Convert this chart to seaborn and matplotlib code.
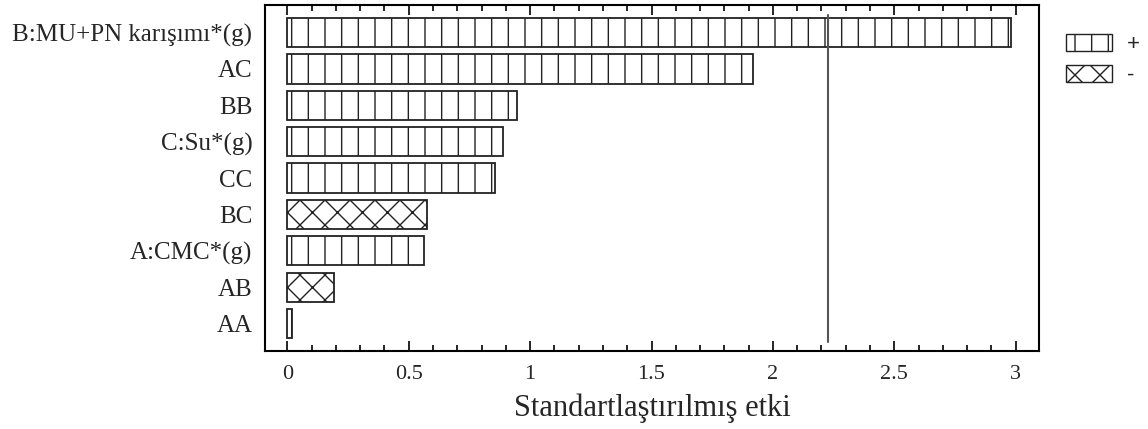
import matplotlib
matplotlib.use("Agg")
import matplotlib.pyplot as plt
import matplotlib.hatch as mhatch
import matplotlib.patches as mpatches
from matplotlib.ticker import MultipleLocator
import seaborn as sns
import pandas as pd

# Standardised effects (absolute values) and their signs
terms = ["B:MU+PN karışımı*(g)", "AC", "BB", "C:Su*(g)", "CC", "BC",
         "A:CMC*(g)", "AB", "AA"]
effects = [2.979, 1.917, 0.946, 0.890, 0.854, 0.577, 0.563, 0.192, 0.021]
signs = ["+", "+", "+", "+", "+", "-", "+", "-", "+"]
t_critical = 2.228
x_ticks = [0, 0.5, 1, 1.5, 2, 2.5, 3]
x_label = "Standartlaştırılmış etki"


# Cross-hatch 'X' with 8 diagonals per tile in each direction
def _sparse_diagonal(base):
    class Sparse(base):
        def __init__(self, hatch, density):
            super().__init__(hatch.replace("X", ""), density)
            extra = hatch.count("X") * 8
            if extra:
                self.num_lines += extra
                self.num_vertices = (self.num_lines + 1) * 2
    return Sparse


mhatch._hatch_types[2] = _sparse_diagonal(mhatch.NorthEastHatch)
mhatch._hatch_types[3] = _sparse_diagonal(mhatch.SouthEastHatch)

sns.set_style("white")
plt.rcParams["font.family"] = ["Liberation Serif", "DejaVu Serif"]
plt.rcParams["hatch.linewidth"] = 1.0

hatch_for = {"+": "|", "-": "X"}
df = pd.DataFrame({"term": terms, "effect": effects, "sign": signs})

fig = plt.figure(figsize=(11.48, 4.29), dpi=100)
ax = fig.add_axes([0.2308, 0.1818, 0.9051 - 0.2308, 0.9883 - 0.1818])

sns.barplot(data=df, x="effect", y="term", orient="h", color="white",
            edgecolor="#222222", linewidth=1.3, width=0.8, ax=ax,
            saturation=1)

for patch, s in zip(ax.patches, signs):
    patch.set_hatch(hatch_for[s])
    patch.set_facecolor("white")

ax.axvline(t_critical, ymin=0.026, ymax=0.971, color="#555555", lw=1.5)

ax.set_xlim(-0.092, 3.096)
ax.set_ylim(len(terms) - 1 + 0.76, -0.76)
ax.set_xticks(x_ticks)
ax.set_xticklabels([f"{v:g}" for v in x_ticks])
ax.xaxis.set_minor_locator(MultipleLocator(0.1))
ax.tick_params(axis="x", which="both", direction="in", top=True,
               bottom=True, color="black", width=1.2)
ax.tick_params(axis="x", which="major", length=7, labelsize=16, pad=10)
ax.tick_params(axis="x", which="minor", length=4)
ax.tick_params(axis="y", length=0, labelsize=18, pad=9)
ax.set_ylabel("")
ax.set_xlabel(x_label, fontsize=22, labelpad=7)

for sp in ax.spines.values():
    sp.set_visible(True)
    sp.set_color("black")
    sp.set_linewidth(1.5)

handles = [mpatches.Patch(facecolor="white", edgecolor="#222222",
                          hatch=hatch_for[k], label=k) for k in ["+", "-"]]
fig.legend(handles=handles, loc="upper left",
           bbox_to_anchor=(1066 / 1148, 1 - 34 / 429), frameon=False,
           borderpad=0, borderaxespad=0, handlelength=2.05,
           handleheight=0.82, handletextpad=0.7, labelspacing=0.42,
           prop={"family": "Liberation Sans", "size": 16})

fig.savefig("out.png", dpi=100)
